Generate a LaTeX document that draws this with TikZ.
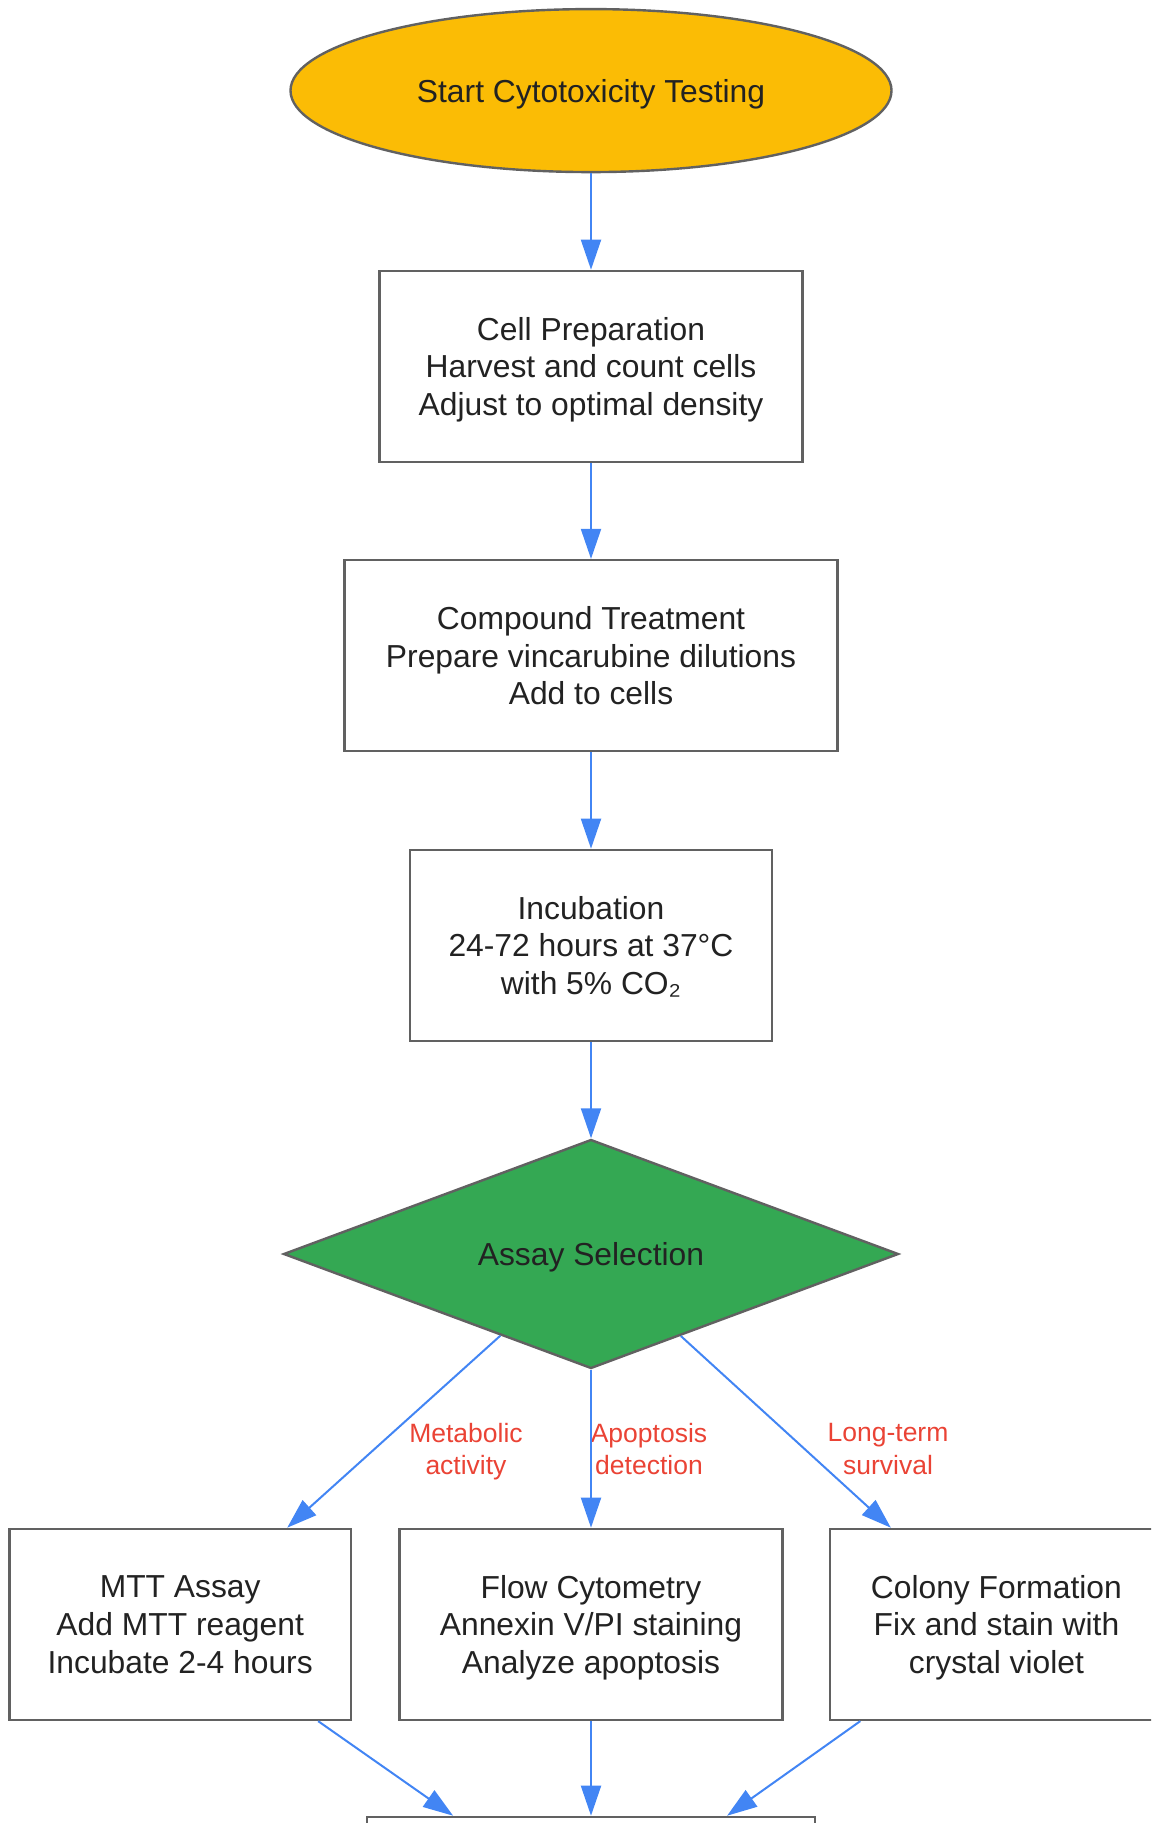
\documentclass[tikz,border=0pt]{standalone}
\usepackage{fontspec}
\setmainfont{Liberation Sans}
\usetikzlibrary{shapes.geometric,arrows.meta}
\definecolor{startyellow}{HTML}{FBBC05}
\definecolor{choicegreen}{HTML}{34A853}
\definecolor{flowblue}{HTML}{4285F4}
\definecolor{labelred}{HTML}{EA4335}
\definecolor{bordergray}{HTML}{616161}
\definecolor{textdark}{HTML}{222222}
\newcommand{\boxfont}{\fontsize{15.9}{18.9}\selectfont}
\newcommand{\branchfont}{\fontsize{13.25}{16.25}\selectfont}

\begin{document}
\begin{tikzpicture}[x=1pt,y=-1pt,>={Triangle[length=15pt,width=10pt]},
        process/.style={rectangle,draw=bordergray,line width=1.2pt,fill=white,text=textdark,align=center,inner sep=0pt,text depth=0pt,minimum height=95.5pt,font=\boxfont},
        startnode/.style={ellipse,draw=bordergray,line width=1.2pt,fill=startyellow,text=textdark,inner sep=0pt,text depth=0pt,minimum width=300.5pt,minimum height=81.5pt,font=\boxfont},
        decision/.style={diamond,aspect=2.686,draw=bordergray,line width=1.2pt,fill=choicegreen,text=textdark,inner sep=0pt,text depth=0pt,minimum width=307.5pt,minimum height=114.5pt,font=\boxfont},
        flowline/.style={->,draw=flowblue,line width=1pt},
        branchlabel/.style={text=labelred,align=center,text depth=0pt,font=\branchfont}]
        \path[use as bounding box,clip] (0,0) rectangle (575.5,911.5);
        \node[startnode] at (295.5,45.3) (start) {Start Cytotoxicity Testing};
        \node[process,minimum width=211.5pt] at (295.5,183.2) (prep) {Cell Preparation\\Harvest and count cells\\Adjust to optimal density};
        \node[process,minimum width=246.5pt] at (295.5,327.8) (treat) {Compound Treatment\\Prepare vincarubine dilutions\\Add to cells};
        \node[process,minimum width=181pt] at (295.5,472.7) (incub) {Incubation\\24-72 hours at 37°C\\with 5\% CO₂};
        \node[decision] at (295.5,627) (select) {Assay Selection};
        \node[process,minimum width=170.8pt] at (90.1,812.2) (mtt) {MTT Assay\\Add MTT reagent\\Incubate 2-4 hours};
        \node[process,minimum width=191.5pt] at (295.5,812.2) (flow) {Flow Cytometry\\Annexin V/PI staining\\Analyze apoptosis};
        \node[process,minimum width=166.5pt] at (498.2,812.2) (colony) {Colony Formation\\Fix and stain with\\crystal violet};
        \node[process,minimum width=224pt] at (295.5,956.2) (result) {};
        \node[branchlabel] at (233,724.5) (lmtt) {Metabolic\\activity};
        \node[branchlabel] at (324.5,724.5) (lflow) {Apoptosis\\detection};
        \node[branchlabel] at (444,724.5) (lcolony) {Long-term\\survival};
        \draw[flowline] (start) -- (prep);
        \draw[flowline] (prep) -- (treat);
        \draw[flowline] (treat) -- (incub);
        \draw[flowline] (incub) -- (select);
        \draw[flowline] (select) -- (mtt);
        \draw[flowline] (select) -- (flow);
        \draw[flowline] (select) -- (colony);
        \draw[flowline] (mtt) -- (result);
        \draw[flowline] (flow) -- (result);
        \draw[flowline] (colony) -- (result);
\end{tikzpicture}
\end{document}
